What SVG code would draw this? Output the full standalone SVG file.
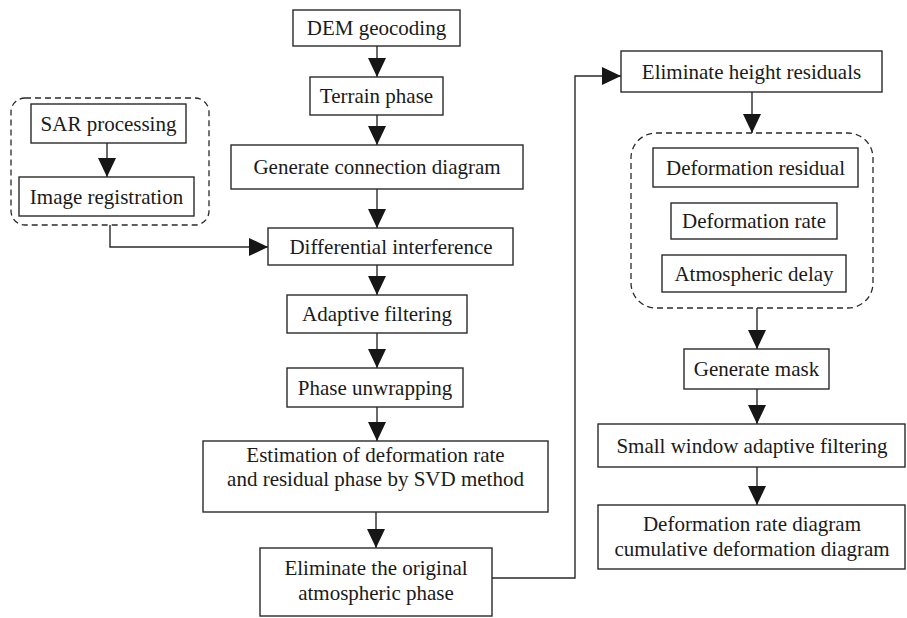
<svg xmlns="http://www.w3.org/2000/svg" width="907" height="618" viewBox="0 0 907 618">
<style>
.b{fill:#fff;stroke:#2a2a2a;stroke-width:1.4}
.d{fill:none;stroke:#2a2a2a;stroke-width:1.3;stroke-dasharray:6 4}
.t{font-family:"Liberation Serif","Times New Roman",serif;font-size:21px;fill:#1a1a1a;text-anchor:middle}
.c{fill:none;stroke:#2a2a2a;stroke-width:1.4}
</style>
<defs>
<marker id="ah" markerUnits="userSpaceOnUse" markerWidth="19" markerHeight="18" refX="19" refY="9" orient="auto">
<path d="M0,0 L19,9 L0,18 z" fill="#161616"/>
</marker>
</defs>
<rect width="907" height="618" fill="#fff"/>
<g id="groups">
<rect id="sar-group" class="d" x="11" y="98" width="198" height="127" rx="14"/>
<rect id="resid-group" class="d" x="631" y="133" width="242" height="175" rx="25"/>
</g>
<g id="connectors">
<line class="c" x1="377" y1="46" x2="377" y2="77" marker-end="url(#ah)"/>
<line class="c" x1="377" y1="115" x2="377" y2="145" marker-end="url(#ah)"/>
<line class="c" x1="377" y1="189" x2="377" y2="228" marker-end="url(#ah)"/>
<line class="c" x1="377" y1="265" x2="377" y2="295" marker-end="url(#ah)"/>
<line class="c" x1="377" y1="333" x2="377" y2="368" marker-end="url(#ah)"/>
<line class="c" x1="377" y1="407" x2="377" y2="441" marker-end="url(#ah)"/>
<line class="c" x1="376" y1="512" x2="376" y2="548" marker-end="url(#ah)"/>
<line class="c" x1="107" y1="143" x2="107" y2="177" marker-end="url(#ah)"/>
<polyline class="c" points="110,225 110,247 268,247" marker-end="url(#ah)"/>
<polyline class="c" points="492,578 575,578 575,76 621,76" marker-end="url(#ah)"/>
<line class="c" x1="752" y1="92" x2="752" y2="133" marker-end="url(#ah)"/>
<line class="c" x1="757" y1="308" x2="757" y2="349" marker-end="url(#ah)"/>
<line class="c" x1="757" y1="389" x2="757" y2="424" marker-end="url(#ah)"/>
<line class="c" x1="757" y1="467" x2="757" y2="505" marker-end="url(#ah)"/>
</g>
<g id="dem"><rect class="b" x="293" y="10" width="167" height="36"/><text class="t" x="376.5" y="35">DEM geocoding</text></g>
<g id="terrain"><rect class="b" x="310" y="77" width="133" height="38"/><text class="t" x="376.5" y="103">Terrain phase</text></g>
<g id="genconn"><rect class="b" x="231" y="145" width="292" height="44"/><text class="t" x="377" y="174">Generate connection diagram</text></g>
<g id="diff"><rect class="b" x="268" y="228" width="245" height="37"/><text class="t" x="391" y="253.5">Differential interference</text></g>
<g id="adaptive"><rect class="b" x="287" y="295" width="180" height="38"/><text class="t" x="377" y="321">Adaptive filtering</text></g>
<g id="unwrap"><rect class="b" x="287" y="368" width="176" height="39"/><text class="t" x="375" y="394.5">Phase unwrapping</text></g>
<g id="svd"><rect class="b" x="203" y="441" width="345" height="71"/><text class="t" x="375.5" y="462">Estimation of deformation rate</text><text class="t" x="375.5" y="486">and residual phase by SVD method</text></g>
<g id="elimatm"><rect class="b" x="260" y="548" width="232" height="68"/><text class="t" x="376" y="575">Eliminate the original</text><text class="t" x="376" y="600">atmospheric phase</text></g>
<g id="sar"><rect class="b" x="31" y="104" width="155" height="39"/><text class="t" x="108.5" y="130.5">SAR processing</text></g>
<g id="imgreg"><rect class="b" x="19" y="177" width="175" height="39"/><text class="t" x="106.5" y="203.5">Image registration</text></g>
<g id="elimh"><rect class="b" x="621" y="51" width="261" height="41"/><text class="t" x="751.5" y="78.5">Eliminate height residuals</text></g>
<g id="defres"><rect class="b" x="653" y="148" width="205" height="39"/><text class="t" x="755.5" y="174.5">Deformation residual</text></g>
<g id="defrate"><rect class="b" x="671" y="203" width="166" height="36"/><text class="t" x="754" y="228">Deformation rate</text></g>
<g id="atmdelay"><rect class="b" x="662" y="255" width="184" height="37"/><text class="t" x="754" y="280.5">Atmospheric delay</text></g>
<g id="mask"><rect class="b" x="684" y="349" width="145" height="40"/><text class="t" x="756.5" y="376">Generate mask</text></g>
<g id="smallwin"><rect class="b" x="598" y="424" width="307" height="43"/><text class="t" x="752" y="452.5">Small window adaptive filtering</text></g>
<g id="result"><rect class="b" x="598" y="505" width="307" height="64"/><text class="t" x="752" y="531">Deformation rate diagram</text><text class="t" x="752" y="556">cumulative deformation diagram</text></g>
</svg>
